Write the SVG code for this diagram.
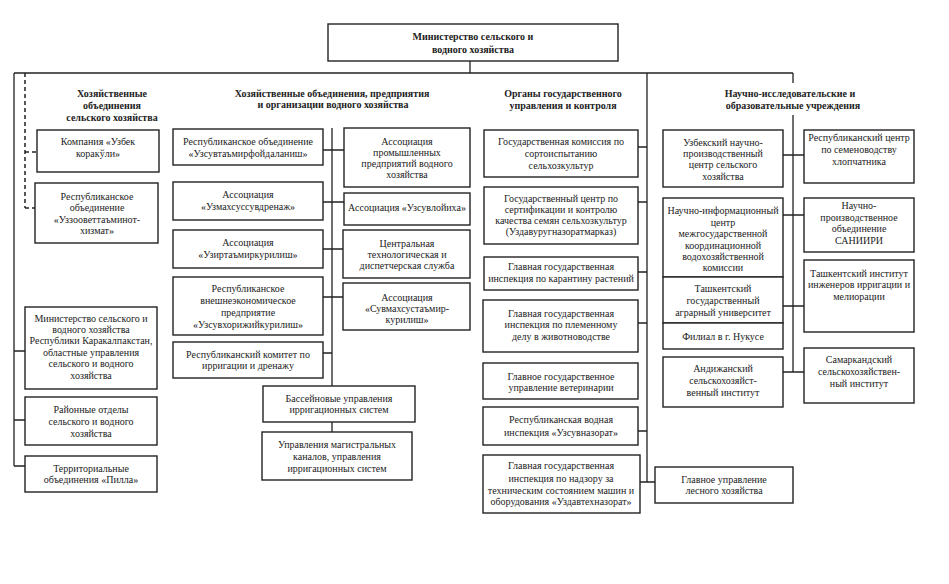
<svg xmlns="http://www.w3.org/2000/svg" width="949" height="584" viewBox="0 0 949 584">
<style>
rect{fill:#fff;stroke:#222;stroke-width:1.4}
text{font-family:"Liberation Serif","Times New Roman",serif;font-size:10px;fill:#222;text-anchor:middle;dominant-baseline:central}
.b{font-weight:bold}
.c{fill:none;stroke:#222;stroke-width:1.3}
.d{fill:none;stroke:#222;stroke-width:1.5;stroke-dasharray:4 3}
</style>
<rect x="0" y="0" width="949" height="584" style="fill:#fff;stroke:none"/>
<g id="connectors">
<path class="c" d="M470 61V73M14 73H793M14 73V466M14 351H25M14 420H25M14 466H25"/>
<path class="d" d="M25 73V208M25 152H37M25 208H35"/>
<path class="c" d="M332 128V386M332 422V432M323 150H344M323 202H344M323 249H343M323 297H343M323 353H332"/>
<path class="c" d="M647 73V482M638 147H647M638 202H647M638 272H647M638 323H647M638 431H647M640 482H655"/>
<path class="c" d="M793 73V83M793 115V372M783 155H804M783 215H804M783 306H804M783 372H804"/>
</g>
<g id="title"><rect x="328" y="24" width="290" height="37"/><text class="b" x="473" y="36">Министерство сельского и</text><text class="b" x="473" y="49">водного хозяйства</text></g>
<g id="h1"><text class="b" x="112" y="93">Хозяйственные</text><text class="b" x="112" y="105">объединения</text><text class="b" x="112" y="117">сельского хозяйства</text></g>
<g id="h2"><text class="b" x="332" y="93">Хозяйственные объединения, предприятия</text><text class="b" x="333" y="104">и организации водного хозяйства</text></g>
<g id="h3"><text class="b" x="563" y="93">Органы государственного</text><text class="b" x="563" y="105">управления и контроля</text></g>
<g id="h4"><text class="b" x="790" y="93">Научно-исследовательские и</text><text class="b" x="793" y="105">образовательные учреждения</text></g>

<g id="a1"><rect x="37" y="130" width="122" height="42"/><text x="98" y="141">Компания «Узбек</text><text x="98" y="153">коракўли»</text></g>
<g id="a2"><rect x="35" y="183" width="123" height="60"/><text x="97" y="196">Республиканское</text><text x="97" y="207">объединение</text><text x="97" y="219">«Уззооветтаъминот-</text><text x="97" y="230">хизмат»</text></g>
<g id="a3"><rect x="25" y="307" width="132" height="82"/><text x="91" y="318">Министерство сельского и</text><text x="91" y="329">водного хозяйства</text><text x="91" y="340">Республики Каракалпакстан,</text><text x="91" y="352">областные управления</text><text x="91" y="363">сельского и водного</text><text x="91" y="375">хозяйства</text></g>
<g id="a4"><rect x="25" y="397" width="132" height="48"/><text x="91" y="409">Районные отделы</text><text x="91" y="421">сельского и водного</text><text x="91" y="433">хозяйства</text></g>
<g id="a5"><rect x="25" y="456" width="132" height="36"/><text x="91" y="468">Территориальные</text><text x="91" y="479">объединения «Пилла»</text></g>

<g id="b1"><rect x="173" y="129" width="150" height="36"/><text x="248" y="141">Республиканское объединение</text><text x="248" y="153">«Узсувтаъмирфойдаланиш»</text></g>
<g id="b2"><rect x="173" y="182" width="150" height="38"/><text x="248" y="194">Ассоциация</text><text x="248" y="206">«Узмахсуссувдренаж»</text></g>
<g id="b3"><rect x="173" y="230" width="150" height="38"/><text x="248" y="242">Ассоциация</text><text x="248" y="254">«Узиртаъмиркурилиш»</text></g>
<g id="b4"><rect x="173" y="277" width="150" height="58"/><text x="248" y="288">Республиканское</text><text x="248" y="300">внешнеэкономическое</text><text x="248" y="312">предприятие</text><text x="248" y="324">«Узсувхорижийкурилиш»</text></g>
<g id="b5"><rect x="173" y="342" width="150" height="36"/><text x="248" y="354">Республиканский комитет по</text><text x="248" y="365">ирригации и дренажу</text></g>
<g id="c1"><rect x="344" y="128" width="126" height="59"/><text x="407" y="141">Ассоциация</text><text x="407" y="152">промышленных</text><text x="407" y="163">предприятий водного</text><text x="407" y="174">хозяйства</text></g>
<g id="c2"><rect x="344" y="193" width="126" height="32"/><text x="407" y="207">Ассоциация «Узсувлойиха»</text></g>
<g id="c3"><rect x="343" y="230" width="127" height="48"/><text x="407" y="243">Центральная</text><text x="407" y="254">технологическая и</text><text x="407" y="265">диспетчерская служба</text></g>
<g id="c4"><rect x="343" y="283" width="127" height="47"/><text x="407" y="297">Ассоциация</text><text x="407" y="308">«Сувмахсустаъмир-</text><text x="407" y="319">курилиш»</text></g>
<g id="b6"><rect x="263" y="386" width="152" height="36"/><text x="339" y="398">Бассейновые управления</text><text x="339" y="409">ирригационных систем</text></g>
<g id="b7"><rect x="262" y="432" width="150" height="48"/><text x="337" y="444">Управления магистральных</text><text x="337" y="456">каналов, управления</text><text x="337" y="468">ирригационных систем</text></g>

<g id="d1"><rect x="484" y="130" width="154" height="47"/><text x="561" y="141">Государственная комиссия по</text><text x="561" y="153">сортоиспытанию</text><text x="561" y="165">сельхозкультур</text></g>
<g id="d2"><rect x="484" y="187" width="154" height="57"/><text x="561" y="198">Государственный центр по</text><text x="561" y="209">сертификации и контролю</text><text x="561" y="220">качества семян сельхозкультур</text><text x="561" y="231">(Уздавуругназоратмарказ)</text></g>
<g id="d3"><rect x="484" y="257" width="154" height="33"/><text x="561" y="266">Главная государственная</text><text x="561" y="278">инспекция по карантину растений</text></g>
<g id="d4"><rect x="483" y="300" width="155" height="52"/><text x="561" y="313">Главная государственная</text><text x="561" y="324">инспекция по племенному</text><text x="561" y="336">делу в животноводстве</text></g>
<g id="d5"><rect x="483" y="363" width="155" height="36"/><text x="561" y="376">Главное государственное</text><text x="561" y="387">управление ветеринарии</text></g>
<g id="d6"><rect x="483" y="407" width="155" height="38"/><text x="561" y="419">Республиканская водная</text><text x="561" y="432">инспекция «Узсувназорат»</text></g>
<g id="d7"><rect x="483" y="455" width="157" height="58"/><text x="561" y="465">Главная государственная</text><text x="561" y="478">инспекция по надзору за</text><text x="561" y="490">техническим состоянием машин и</text><text x="561" y="501">оборудования «Уздавтехназорат»</text></g>
<g id="d8"><rect x="655" y="467" width="138" height="36"/><text x="724" y="479">Главное управление</text><text x="724" y="490">лесного хозяйства</text></g>

<g id="e1"><rect x="663" y="130" width="120" height="57"/><text x="723" y="142">Узбекский научно-</text><text x="723" y="153">производственный</text><text x="723" y="164">центр сельского</text><text x="723" y="176">хозяйства</text></g>
<g id="e2"><rect x="663" y="198" width="120" height="79"/><text x="723" y="210">Научно-информационный</text><text x="723" y="222">центр</text><text x="723" y="233">межгосударственной</text><text x="723" y="245">координационной</text><text x="723" y="256">водохозяйственной</text><text x="723" y="267">комиссии</text></g>
<g id="e3"><rect x="663" y="277" width="120" height="46"/><text x="723" y="288">Ташкентский</text><text x="723" y="300">государственный</text><text x="723" y="312">аграрный университет</text></g>
<g id="e4"><rect x="663" y="323" width="120" height="26"/><text x="723" y="336">Филиал в г. Нукусе</text></g>
<g id="e5"><rect x="663" y="357" width="120" height="50"/><text x="723" y="368">Андижанский</text><text x="723" y="380">сельскохозяйст-</text><text x="723" y="392">венный институт</text></g>
<g id="f1"><rect x="804" y="130" width="110" height="53"/><text x="859" y="137">Республиканский центр</text><text x="859" y="149">по семеноводству</text><text x="859" y="161">хлопчатника</text></g>
<g id="f2"><rect x="804" y="198" width="110" height="54"/><text x="859" y="205">Научно-</text><text x="859" y="217">производственное</text><text x="859" y="228">объединение</text><text x="859" y="240">САНИИРИ</text></g>
<g id="f3"><rect x="804" y="260" width="110" height="72"/><text x="859" y="273">Ташкентский институт</text><text x="859" y="284">инженеров ирригации и</text><text x="859" y="296">мелиорации</text></g>
<g id="f4"><rect x="804" y="348" width="110" height="55"/><text x="859" y="359">Самаркандский</text><text x="859" y="371">сельскохозяйствен-</text><text x="859" y="383">ный институт</text></g>
</svg>
